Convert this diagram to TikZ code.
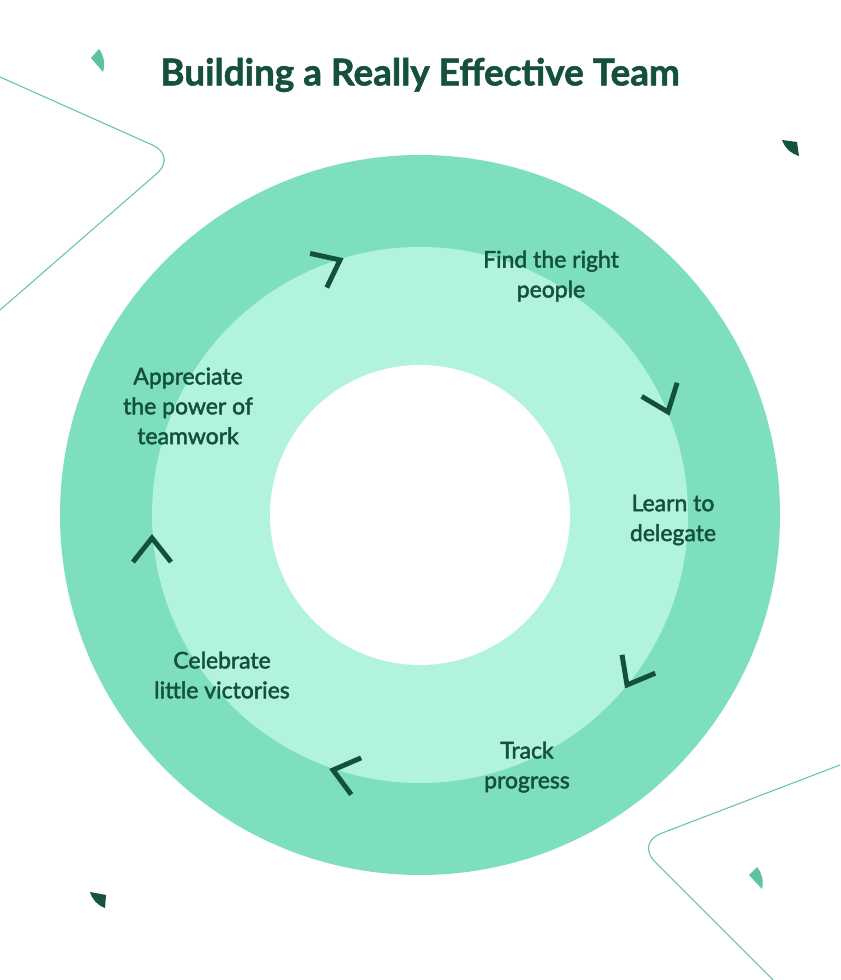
\documentclass[tikz,border=0pt]{standalone}
\usepackage{fontspec}
\setmainfont{Lato}
\newfontfamily\labelfont{Lato}[FakeBold=2]
\newfontfamily\titlefont{Lato}[BoldFeatures={FakeBold=1.5}]
\usetikzlibrary{positioning}
\definecolor{darkgreen}{RGB}{20,80,60}
\definecolor{outerteal}{RGB}{125,223,192}
\definecolor{innermint}{RGB}{177,243,223}
\definecolor{linegreen}{RGB}{100,196,165}
\definecolor{leafteal}{RGB}{95,195,160}
\definecolor{leafdark}{RGB}{18,85,60}
\begin{document}
\begin{tikzpicture}[
        x=0.3mm, y=0.3mm,
        ringdisc/.style={circle, draw=none, inner sep=0pt},
        titletext/.style={text=darkgreen, font=\titlefont\bfseries\fontsize{31.5}{36}\selectfont},
        steplabel/.style={align=center, text=darkgreen, font=\labelfont\fontsize{19.6}{25.5}\selectfont},
        chev/.style={draw=darkgreen, line width=4.2pt, line cap=butt, line join=miter},
        decoline/.style={draw=linegreen, line width=0.9pt, rounded corners=8mm},
        leafdot/.style={fill=leafteal},
        darkdot/.style={fill=leafdark}
    ]
    \fill[white] (0,0) rectangle (840,980);
    \useasboundingbox (0,0) rectangle (840,980);
    % background decoration
    \draw[decoline] (0,903) -- (177,824) -- (0,670);
    \draw[decoline] (840,215) -- (636,137) -- (773,0);
    \fill[leafdot] (91,922) -- (99,931) to[bend left=25] (103,908) -- cycle;
    \fill[leafdot] (749,105) -- (757,113) to[bend left=25] (762,91) -- cycle;
    \fill[darkdot] (782,840) -- (797,838) -- (799,824) to[bend left=25] cycle;
    \fill[darkdot] (90,88) -- (106,85) -- (105,72) to[bend left=25] cycle;
    % title
    \node[titletext] (title) at (420,905) {Building a Really Effective Team};
    % rings
    \node[ringdisc, fill=outerteal, minimum size=216mm] (outer) at (420,465) {};
    \node[ringdisc, fill=innermint, minimum size=160.8mm] (middle) at (outer.center) {};
    \node[ringdisc, fill=white, minimum size=90mm] (hole) at (outer.center) {};
    % steps
    \node[steplabel] (find)       at (551,704) {Find the right\\people};
    \node[steplabel] (delegate)   at (673,460) {Learn to\\delegate};
    \node[steplabel] (track)      at (527,213) {Track\\progress};
    \node[steplabel] (celebrate)  at (222,305) {Celebrate\\little victories};
    \node[steplabel] (appreciate) at (188,574) {Appreciate\\the power of\\teamwork};
    % chevrons
    \foreach \ax/\ay/\d in {340/720/26, 668/568/-69, 627/295/-119, 333/210/165, 152/442/90}
        \draw[chev, shift={(\ax,\ay)}, rotate=\d] (-24,19) -- (0,0) -- (-24,-19);
\end{tikzpicture}
\end{document}
